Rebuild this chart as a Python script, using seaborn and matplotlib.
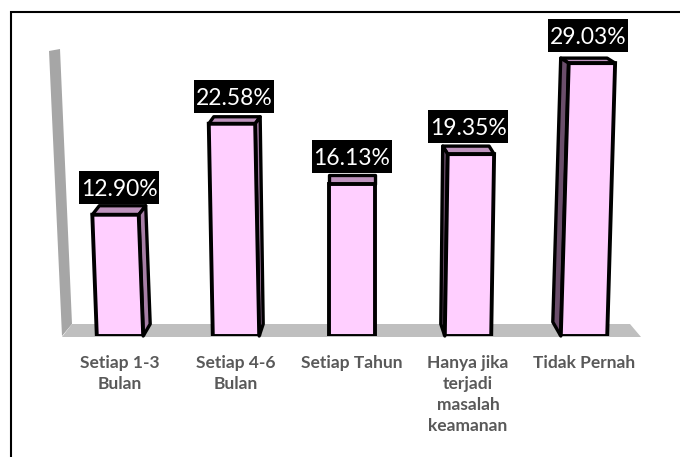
import matplotlib
matplotlib.use("Agg")
import matplotlib.pyplot as plt
import pandas as pd
import seaborn as sns
from matplotlib.patches import Polygon, Rectangle
from matplotlib.transforms import Affine2D

kategori = ["Setiap 1-3\nBulan", "Setiap 4-6\nBulan", "Setiap Tahun",
            "Hanya jika\nterjadi\nmasalah\nkeamanan", "Tidak Pernah"]
persen = [12.90, 22.58, 16.13, 19.35, 29.03]

W, H = 680, 457
BASE = 336        # pixel row of the baseline
PX_X = 116.0      # pixels per category
PX_Y = 9.4        # pixels per percent
X0 = 120          # pixel column of the first category

# look of the fake 3d boxes, in pixels
lean = [-0.037, -0.019, 0.0, 0.016, 0.029]
top_off = [(7, -9), (5, -7), (0, -9), (-5, -8), (-8, -5)]
bot_off = [(7, -12), (4, -12), (0, -12), (-4, -12), (-8, -14)]
side_col = ["#A77FA6", "#A77FA6", None, "#6B4E6B", "#6B4E6B"]
top_col = "#BF94BE"
front_col = "#FFCFFF"

sns.set_theme(style="white")
plt.rcParams["font.family"] = ["Lato", "DejaVu Sans"]

fig = plt.figure(figsize=(W / 100, H / 100), dpi=100)
ax = fig.add_axes([0, (H - BASE) / H, 1, BASE / H])
ax.patch.set_visible(False)


def fxy(x, y):
    return (x / W, 1 - y / H)


def fig_poly(pts, color, z=-2):
    fig.add_artist(Polygon([fxy(*p) for p in pts], closed=True, facecolor=color,
                           edgecolor="none", transform=fig.transFigure, zorder=z))


# back wall and floor
fig_poly([(49, 51), (60, 49), (72, 324), (62, 336)], "#A6A6A6")
fig_poly([(72, 324), (630, 324), (641, 337), (62, 337)], "#BFBFBF")

df = pd.DataFrame({"kategori": kategori, "persen": persen})
sns.barplot(data=df, x="kategori", y="persen", ax=ax, width=0.40, color=front_col,
            saturation=1, edgecolor="black", linewidth=2.8, zorder=3)

ax.set_xlim(-X0 / PX_X, (W - X0) / PX_X)
ax.set_ylim(0, BASE / PX_Y)
ax.set_xlabel("")
ax.set_ylabel("")
ax.set_yticks([])
sns.despine(ax=ax, left=True, bottom=True)
ax.tick_params(axis="x", length=0, pad=13.5)
for t in ax.get_xticklabels():
    t.set_fontsize(12.5)
    t.set_fontweight("bold")
    t.set_color("#595959")
    t.set_linespacing(1.38)

for i, bar in enumerate(ax.patches):
    x, w, h = bar.get_x(), bar.get_width(), bar.get_height()
    # the boxes lean a little, like in the perspective view
    k = lean[i] * PX_Y / PX_X
    bar.set_transform(Affine2D.from_values(1, 0, k, 1, 0, 0) + ax.transData)
    bar.set_joinstyle("miter")

    tl = (x + k * h, h)
    tr = (x + w + k * h, h)
    bl = (x, 0)
    br = (x + w, 0)

    def up(p, o):
        return (p[0] + o[0] / PX_X, p[1] - o[1] / PX_Y)

    st = dict(edgecolor="black", linewidth=2.4, joinstyle="round", clip_on=False)
    ax.add_patch(Polygon([tl, tr, up(tr, top_off[i]), up(tl, top_off[i])], facecolor=top_col, zorder=2, **st))
    if side_col[i] is not None:
        if top_off[i][0] > 0:
            pts = [tr, up(tr, top_off[i]), up(br, bot_off[i]), br]
        else:
            pts = [tl, up(tl, top_off[i]), up(bl, bot_off[i]), bl]
        ax.add_patch(Polygon(pts, facecolor=side_col[i], zorder=2, **st))

    # black value label over the box
    cx = x + w / 2 + k * h + top_off[i][0] / PX_X / 2
    box_w, box_h = 80 / PX_X, 33 / PX_Y
    y0 = h + 11 / PX_Y
    ax.add_patch(Rectangle((cx - box_w / 2, y0), box_w, box_h, facecolor="black", edgecolor="none",
                           zorder=4, clip_on=False))
    ax.text(cx, y0 + box_h / 2, f"{persen[i]:.2f}%", color="white", fontsize=16.5, ha="center",
            va="center_baseline", zorder=5, clip_on=False)

# outer frame: only left and top are in the picture
fig.add_artist(plt.Line2D([11 / W, 11 / W, 1], [0, 1 - 12 / H, 1 - 12 / H], color="black",
                          linewidth=1.5, transform=fig.transFigure, solid_joinstyle="miter"))

fig.savefig("out.png", dpi=100)
